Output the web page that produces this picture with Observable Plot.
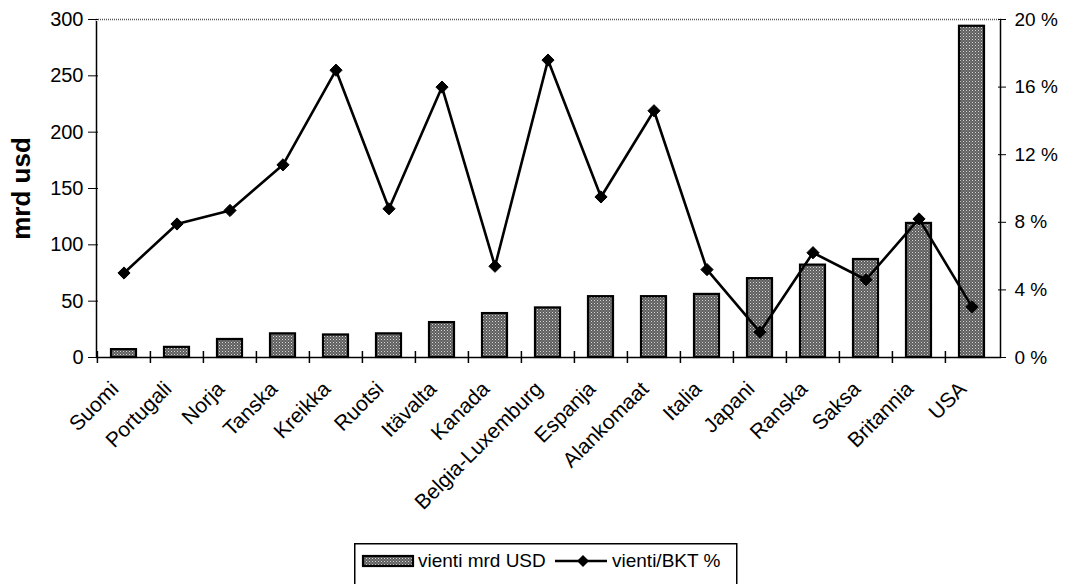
<!DOCTYPE html>
<html>
<head>
<meta charset="utf-8">
<script src="https://cdn.jsdelivr.net/npm/d3@7"></script>
<script src="https://cdn.jsdelivr.net/npm/@observablehq/plot@0.6"></script>
<style>
  html, body { margin: 0; padding: 0; background: #fff; }
  #wrap { position: relative; width: 1069px; height: 584px; overflow: hidden; font-family: "Liberation Sans", Arial, sans-serif; }
  #legend { position: absolute; left: 354px; top: 543px; }
</style>
</head>
<body>
<div id="wrap"><div id="chart"></div><div id="legend"></div></div>
<script>
const countries = ["Suomi","Portugali","Norja","Tanska","Kreikka","Ruotsi","Itävalta","Kanada","Belgia-Luxemburg","Espanja","Alankomaat","Italia","Japani","Ranska","Saksa","Britannia","USA"];
const exportsUsd = [7, 9, 16, 21, 20, 21, 31, 39, 44, 54, 54, 56, 70, 82, 87, 119, 294];
const exportPct = [5.0, 7.9, 8.7, 11.4, 17.0, 8.8, 16.0, 5.4, 17.6, 9.5, 14.6, 5.2, 1.5, 6.2, 4.6, 8.2, 3.0];
const leftTicks = [0, 50, 100, 150, 200, 250, 300];
const rightTicks = [0, 4, 8, 12, 16, 20];
const seriesNames = ["vienti mrd USD", "vienti/BKT %"];
const yLabel = "mrd usd";

const data = countries.map((c, i) => ({country: c, value: exportsUsd[i], pct: exportPct[i]}));
const k = 300 / 20; // right-axis (percent) mapped onto left scale

const width = 1069, height = 536;
const ml = 96, mr = 69, mt = 19, mb = height - 357;
const step = (width - ml - mr) / countries.length;
const tickHalf = 6 * 300 / (357 - mt); // 6px expressed in y units

const plot = Plot.plot({
  width, height,
  marginLeft: ml, marginRight: mr, marginTop: mt, marginBottom: mb,
  style: {fontFamily: "'Liberation Sans', Arial, sans-serif", fontSize: "19px", color: "black", background: "white"},
  x: {domain: countries, paddingInner: 0.52, paddingOuter: 0.26, axis: null},
  y: {domain: [0, 300], axis: null},
  marks: [
    Plot.frame({stroke: "black", strokeWidth: 1.5}),
    Plot.ruleY([300], {stroke: "white", strokeWidth: 3}),
    Plot.ruleY([300], {stroke: "#555", strokeWidth: 1.5, strokeDasharray: "1,1"}),
    Plot.barY(data, {x: "country", y: "value", fill: "url(#dots)", stroke: "black", strokeWidth: 2.2}),
    Plot.line(data, {x: "country", y: d => d.pct * k, stroke: "black", strokeWidth: 2.6}),
    Plot.dot(data, {x: "country", y: d => d.pct * k, symbol: "diamond2", r: 5.5, fill: "black", stroke: "black", strokeWidth: 1}),
    Plot.axisY({anchor: "left", ticks: leftTicks, tickSize: 8, tickPadding: 5, fontSize: 20, label: null}),
    Plot.axisY({anchor: "left", ticks: leftTicks, tickSize: 2, dx: 2, tickFormat: () => "", label: null}),
    Plot.axisY({anchor: "right", ticks: rightTicks.map(v => v * k), tickFormat: d => `${d / k} %`, tickSize: 5, tickPadding: 9, label: null}),
    Plot.axisY({anchor: "right", ticks: rightTicks.map(v => v * k), tickSize: 3, dx: -3, tickFormat: () => "", label: null}),
    Plot.ruleX(countries, {x: d => d, dx: -step / 2, y1: -tickHalf, y2: tickHalf, stroke: "black", strokeWidth: 1.5}),
    Plot.axisX({ticks: countries, tickSize: 0, tickPadding: 28, tickRotate: -45, fontSize: 21, dx: -9, label: null}),
    Plot.text([yLabel], {frameAnchor: "left", dx: -75, rotate: -90, textAnchor: "middle", fontWeight: "bold", fontSize: 26})
  ]
});

const defs = `<defs><pattern id="dots" width="3" height="3" patternUnits="userSpaceOnUse">
  <rect width="3" height="3" fill="#5e5e5e"/><rect x="0" y="0" width="1" height="1" fill="#d8d8d8"/><rect x="1.5" y="1.5" width="1" height="1" fill="#aaaaaa"/></pattern></defs>`;
plot.insertAdjacentHTML("afterbegin", defs);
document.getElementById("chart").appendChild(plot);

// legend
const lg = d3.select("#legend").append("svg").attr("width", 385).attr("height", 45)
  .style("font-family", "'Liberation Sans', Arial, sans-serif").style("font-size", "19px");
lg.append("rect").attr("x", 0.75).attr("y", 0.75).attr("width", 382).attr("height", 60).attr("fill", "white").attr("stroke", "black").attr("stroke-width", 1.5);
lg.append("rect").attr("x", 9).attr("y", 13).attr("width", 50).attr("height", 10).attr("fill", "url(#dots)").attr("stroke", "black").attr("stroke-width", 2.2);
lg.append("text").attr("x", 64).attr("y", 24).text(seriesNames[0]);
lg.append("line").attr("x1", 201).attr("x2", 253).attr("y1", 18).attr("y2", 18).attr("stroke", "black").attr("stroke-width", 2.5);
lg.append("path").attr("d", "M229,12L235,18L229,24L223,18Z").attr("fill", "black");
lg.append("text").attr("x", 258).attr("y", 24).text(seriesNames[1]);
</script>
</body>
</html>
